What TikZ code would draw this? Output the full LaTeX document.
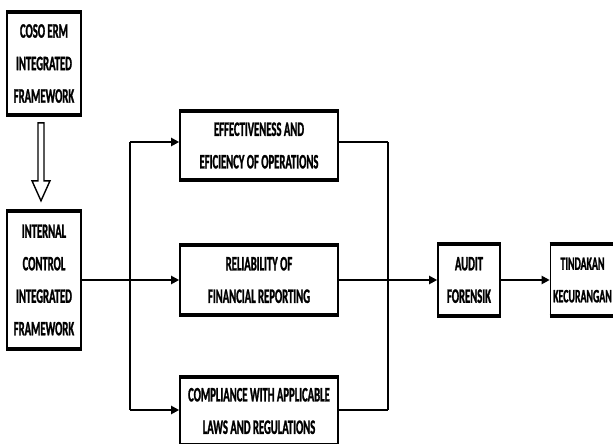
\documentclass[tikz,border=0pt]{standalone}
\usepackage{fontspec}
\newfontfamily\boxfont[FakeStretch=0.52,FakeBold=1.2]{Carlito}
\usetikzlibrary{arrows.meta,calc}

\begin{document}
\begin{tikzpicture}[x=1pt,y=-1pt,
  blockbox/.style={draw,line width=1.6pt,inner sep=0pt,align=center,
    font=\boxfont\bfseries\fontsize{20.5}{32.5}\selectfont},
  link/.style={line width=2.2pt,-{Triangle[length=8pt,width=8pt]}},
  branch/.style={line width=1.5pt}]
	\useasboundingbox (0,0) rectangle (613,444);
	\clip (0,0) rectangle (613,444);
	\node[blockbox,minimum width=74pt,minimum height=101pt] (coso) at (44,63.5) {COSO ERM\\INTEGRATED\\FRAMEWORK};
	\node[blockbox,minimum width=74pt,minimum height=136pt] (icif) at (44,280) {INTERNAL\\CONTROL\\INTEGRATED\\FRAMEWORK};
	\node[blockbox,minimum width=158pt,minimum height=67pt] (eff) at (259,145.5) {EFFECTIVENESS AND\\EFICIENCY OF OPERATIONS};
	\node[blockbox,minimum width=158pt,minimum height=68pt] (rel) at (259,280) {RELIABILITY OF\\FINANCIAL REPORTING};
	\node[blockbox,minimum width=158pt,minimum height=66pt] (comp) at (259,411) {COMPLIANCE WITH APPLICABLE\\LAWS AND REGULATIONS};
	\node[blockbox,minimum width=62pt,minimum height=70pt] (audit) at (469,280) {AUDIT\\FORENSIK};
	\node[blockbox,minimum width=64pt,minimum height=70pt,
	  font=\boxfont\bfseries\fontsize{19}{32.5}\selectfont] (tind) at (582.5,280) {TINDAKAN\\KECURANGAN};
	\foreach \n in {coso,icif,eff,rel,comp,audit,tind}
		\draw[line width=3.5pt] (\n.north west) -- (\n.north east) (\n.south west) -- (\n.south east);
	\coordinate (hollow) at ($(coso.south)+(-3,8)$);
	\draw[line width=1.4pt,fill=white] (hollow) ++(-3,0) -- ++(0,58) -- ++(-6,0) -- ++(9,20) -- ++(9,-20) -- ++(-6,0) -- ++(0,-58) -- cycle;
	\coordinate (up) at (130,142);
	\coordinate (down) at (130,410);
	\coordinate (upout) at (388,142);
	\coordinate (downout) at (388,410);
	\draw[branch] (up) -- (down);
	\draw[branch] (upout) -- (downout);
	\draw[link] (icif.east) -- (rel.west);
	\draw[link] (up) -- (up -| eff.west);
	\draw[link] (down) -- (down -| comp.west);
	\draw[line width=2.2pt] (up -| eff.east) -- (upout);
	\draw[line width=2.2pt] (down -| comp.east) -- (downout);
	\draw[link] (rel.east) -- (audit.west);
	\draw[link] (audit.east) -- (tind.west);
\end{tikzpicture}
\end{document}
